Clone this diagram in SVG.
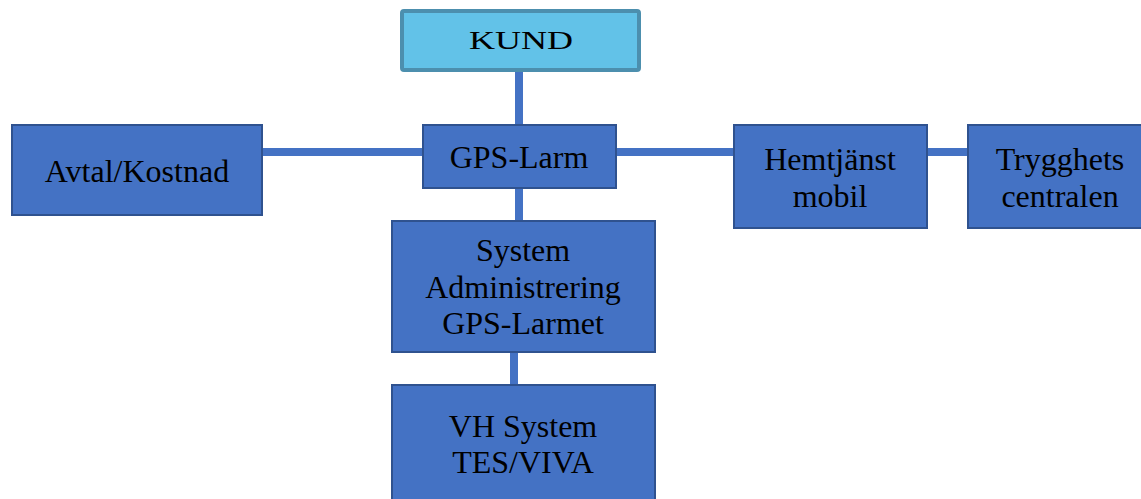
<svg xmlns="http://www.w3.org/2000/svg" width="1141" height="499" viewBox="0 0 1141 499">
<style>
.n{fill:#4472C4;stroke:#2F528F;stroke-width:2}
.t{font-family:"Liberation Serif","Times New Roman",serif;font-size:32px;fill:#000;text-anchor:middle}
.c{stroke:#4472C4;stroke-width:8;fill:none}
</style>
<rect width="1141" height="499" fill="#fff"/>
<g id="connectors">
<line class="c" x1="519" y1="72" x2="519" y2="126"/>
<line class="c" x1="262" y1="152" x2="424" y2="152"/>
<line class="c" x1="616" y1="152" x2="734" y2="152"/>
<line class="c" x1="927" y1="152" x2="968" y2="152"/>
<line class="c" x1="519" y1="188" x2="519" y2="221"/>
<line class="c" x1="514" y1="352" x2="514" y2="385"/>
</g>
<g id="kund">
<rect x="402" y="11" width="237" height="59" fill="#62C2E8" stroke="#4C8FAE" stroke-width="4" rx="2"/>
<text x="521" y="49" font-family="'Liberation Serif','Times New Roman',serif" font-size="26" text-anchor="middle" textLength="104" lengthAdjust="spacingAndGlyphs">KUND</text>
</g>
<g id="avtal">
<rect class="n" x="12" y="125" width="250" height="90"/>
<text class="t" x="137" y="182">Avtal/Kostnad</text>
</g>
<g id="gpslarm">
<rect class="n" x="423" y="125" width="193" height="63"/>
<text class="t" x="519" y="168">GPS-Larm</text>
</g>
<g id="hemtjanst">
<rect class="n" x="734" y="125" width="193" height="103"/>
<text class="t" x="830" y="170">Hemtjänst</text>
<text class="t" x="830" y="207">mobil</text>
</g>
<g id="trygghets">
<rect class="n" x="968" y="125" width="180" height="103"/>
<text class="t" x="1060" y="170">Trygghets</text>
<text class="t" x="1060" y="207">centralen</text>
</g>
<g id="system">
<rect class="n" x="392" y="221" width="263" height="131"/>
<text class="t" x="523" y="261">System</text>
<text class="t" x="523" y="298">Administrering</text>
<text class="t" x="523" y="334">GPS-Larmet</text>
</g>
<g id="vh">
<rect class="n" x="392" y="385" width="263" height="125"/>
<text class="t" x="523" y="437">VH System</text>
<text class="t" x="523" y="473">TES/VIVA</text>
</g>
</svg>
